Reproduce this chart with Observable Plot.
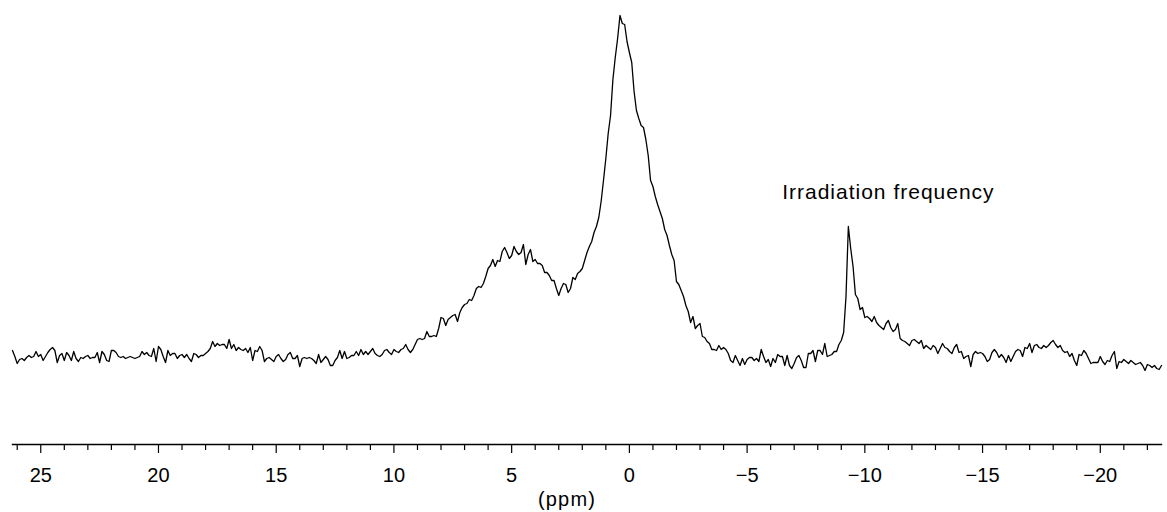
<!DOCTYPE html>
<html>
<head>
<meta charset="utf-8">
<script src="https://cdn.jsdelivr.net/npm/d3@7"></script>
<script src="https://cdn.jsdelivr.net/npm/@observablehq/plot@0.6"></script>
<style>
  html, body { margin: 0; padding: 0; background: #fff; }
  #chart svg { display: block; }
</style>
</head>
<body>
<div id="chart"></div>
<script>
const ppmStart = 26.2;
const ppmStep = 0.1;
const intensity = [
  6, 0, -7, -3, -2, -4, -1, 1, -1, 0, 5, 0, 2, -4, 0, 4, 7, 9, 6, -6,
  1, 3, -4, 4, 1, -4, 5, -2, -5, -1, -2, 0, 1, -2, -1, -1, 4, -6, 5, 2,
  -4, -5, 6, 6, 4, 0, -1, 0, -2, -1, 0, -1, -2, -1, 0, 5, 2, 4, 1, 0,
  8, -5, 10, 7, 0, -6, 6, 1, 3, 3, -2, 1, 2, -1, 2, -2, -5, 3, 2, -1,
  1, 1, 3, 5, 8,
  15, 10, 13, 11, 12, 12, 8, 17, 8, 12, 6, 9, 7, 6, 8, 4, 9, -4, 6, 5,
  10, 6, -5, -2, -1, -3, -5, 0, 2, -2, -5, -3, 2, 4, -2, -2, 1, -10, -2, -1,
  -2, -1, -2, -4, -7, 2, -6, -3, 0, -3, -9, -9, -4, -1, 6, -2, 5, -2, -1, 1,
  1, 5, 1, 7, 2, 5, 2, 5, 8, 3, 1, 0, 2, 6, 7, 4, 2, 7, 5, 4, 7,
  8, 12, 7, 4, 7, 12, 17, 18, 17, 18, 25, 20, 20, 21, 20, 28, 39, 38, 31, 37,
  39, 41, 42, 35, 44, 49, 52, 53, 57, 56, 61, 68, 70, 69, 73, 80, 88, 91, 97, 90,
  96, 95, 105, 109, 104, 98, 101, 110, 105, 102, 104, 112, 92, 102, 107, 95, 97, 93, 93, 91,
  84, 84, 81, 76, 76, 68, 61, 68, 73, 72, 64, 68, 79, 77, 83, 85, 88, 96, 104, 110,
  115, 124, 130, 139, 155, 176, 198, 223, 241, 277, 299, 318, 341, 333, 332, 315, 304, 294, 265, 246,
  238, 231, 229, 217, 201, 176, 170, 160, 152, 145, 138, 127, 121, 111, 102, 96, 75, 72, 66, 60,
  51, 45, 34, 40, 28, 31, 33, 20, 19, 15, 13, 7, 7, 6, 11, 7,
  9, 7, 3, -4, -6, 1, -4, -9, -2, -8, -3, -1, -1, -4, -2, -5, 7, 0, -6, -3,
  -10, -2, -6, 2, 0, 0, -9, 1, -9, -12, -7, -1, 1, -4, -11, -11, 3, 3, 6, -5,
  6, 6, 2, 13, 0, 1, 2, 5, 5, 12, 16, 24, 60, 130, 108, 90, 62, 58, 47, 49,
  39, 40, 38, 35, 40, 34, 31, 29, 27, 33, 36, 29, 25, 27, 33, 18,
  16, 15, 13, 11, 16, 17, 15, 13, 16, 8, 11, 9, 7, 11, 9, 3, 8, 13, 9, 8,
  5, 3, 9, 12, 4, 5, -2, 0, 1, -10, 2, 5, 3, 4, 3, 0, -5, -3, 4, 7,
  4, -1, 2, -1, -6, 1, -5, 0, 5, 7, 6, 0, 9, 8, 13, 4, 11, 12, 9, 8,
  11, 9, 11, 14, 16, 12, 9, 11, 6, 4, 5, 0, 3, -4, -9, 2, 1, 6, 3, -2,
  -7, -6, -6, -6, 0, -5, -8, -4, -5, 1, 5, -12, -5, -6, -3, -5, -7, -4, -6, -8,
  -7, -6, -9, -14, -8, -9, -11, -9, -12, -13, -9
];

const xDomain = [26.2, -22.6];
const majorTicks = [25, 20, 15, 10, 5, 0, -5, -10, -15, -20];
const minorTicks = [26, 24, 23, 22, 21, 19, 18, 17, 16, 14, 13, 12, 11, 9, 8, 7, 6, 4, 3, 2, 1,
  -1, -2, -3, -4, -6, -7, -8, -9, -11, -12, -13, -14, -16, -17, -18, -19, -21, -22];
const axisLabel = "(ppm)";

const annotationText = ["Irradiation frequency"];
const annotationPpm = [-11.0];
const annotationIntensity = [164];

const spectrum = intensity.map((v, i) => ({
  ppm: Math.round((ppmStart - i * ppmStep) * 100) / 100,
  intensity: v
}));
const annotations = annotationText.map((t, i) => ({
  text: t, ppm: annotationPpm[i], intensity: annotationIntensity[i]
}));

const chart = Plot.plot({
  width: 1167,
  height: 512,
  marginLeft: 12,
  marginRight: 6,
  marginTop: 0,
  marginBottom: 68,
  x: {domain: xDomain, label: null},
  y: {domain: [0, 343], range: [356, 13], axis: null},
  style: {
    fontFamily: "'Liberation Sans', Arial, Helvetica, sans-serif",
    color: "#000",
    background: "#fff"
  },
  marks: [
    Plot.frame({anchor: "bottom", stroke: "#000", strokeWidth: 1.4}),
    Plot.axisX({ticks: minorTicks, tickSize: 6, tickFormat: () => "", label: null, strokeWidth: 1.2}),
    Plot.axisX({ticks: majorTicks, tickSize: 9, tickPadding: 14, fontSize: 20, label: null, strokeWidth: 1.2}),
    Plot.line(spectrum, {x: "ppm", y: "intensity", stroke: "#000", strokeWidth: 1.3}),
    Plot.text(annotations, {x: "ppm", y: "intensity", text: "text", fontSize: 21, textAnchor: "middle", fill: "#000"}),
    Plot.text([axisLabel], {frameAnchor: "bottom", lineAnchor: "middle", dy: 55, dx: -20, fontSize: 20, fill: "#000"})
  ]
});

// Slightly wider lettering, as in the original typeface
d3.select(chart).selectAll("text")
  .filter(function () { return this.textContent === annotationText[0]; })
  .style("letter-spacing", "1px");
d3.select(chart).selectAll("text")
  .filter(function () { return this.textContent === axisLabel; })
  .style("letter-spacing", "1.2px");

document.getElementById("chart").appendChild(chart);
</script>
</body>
</html>
